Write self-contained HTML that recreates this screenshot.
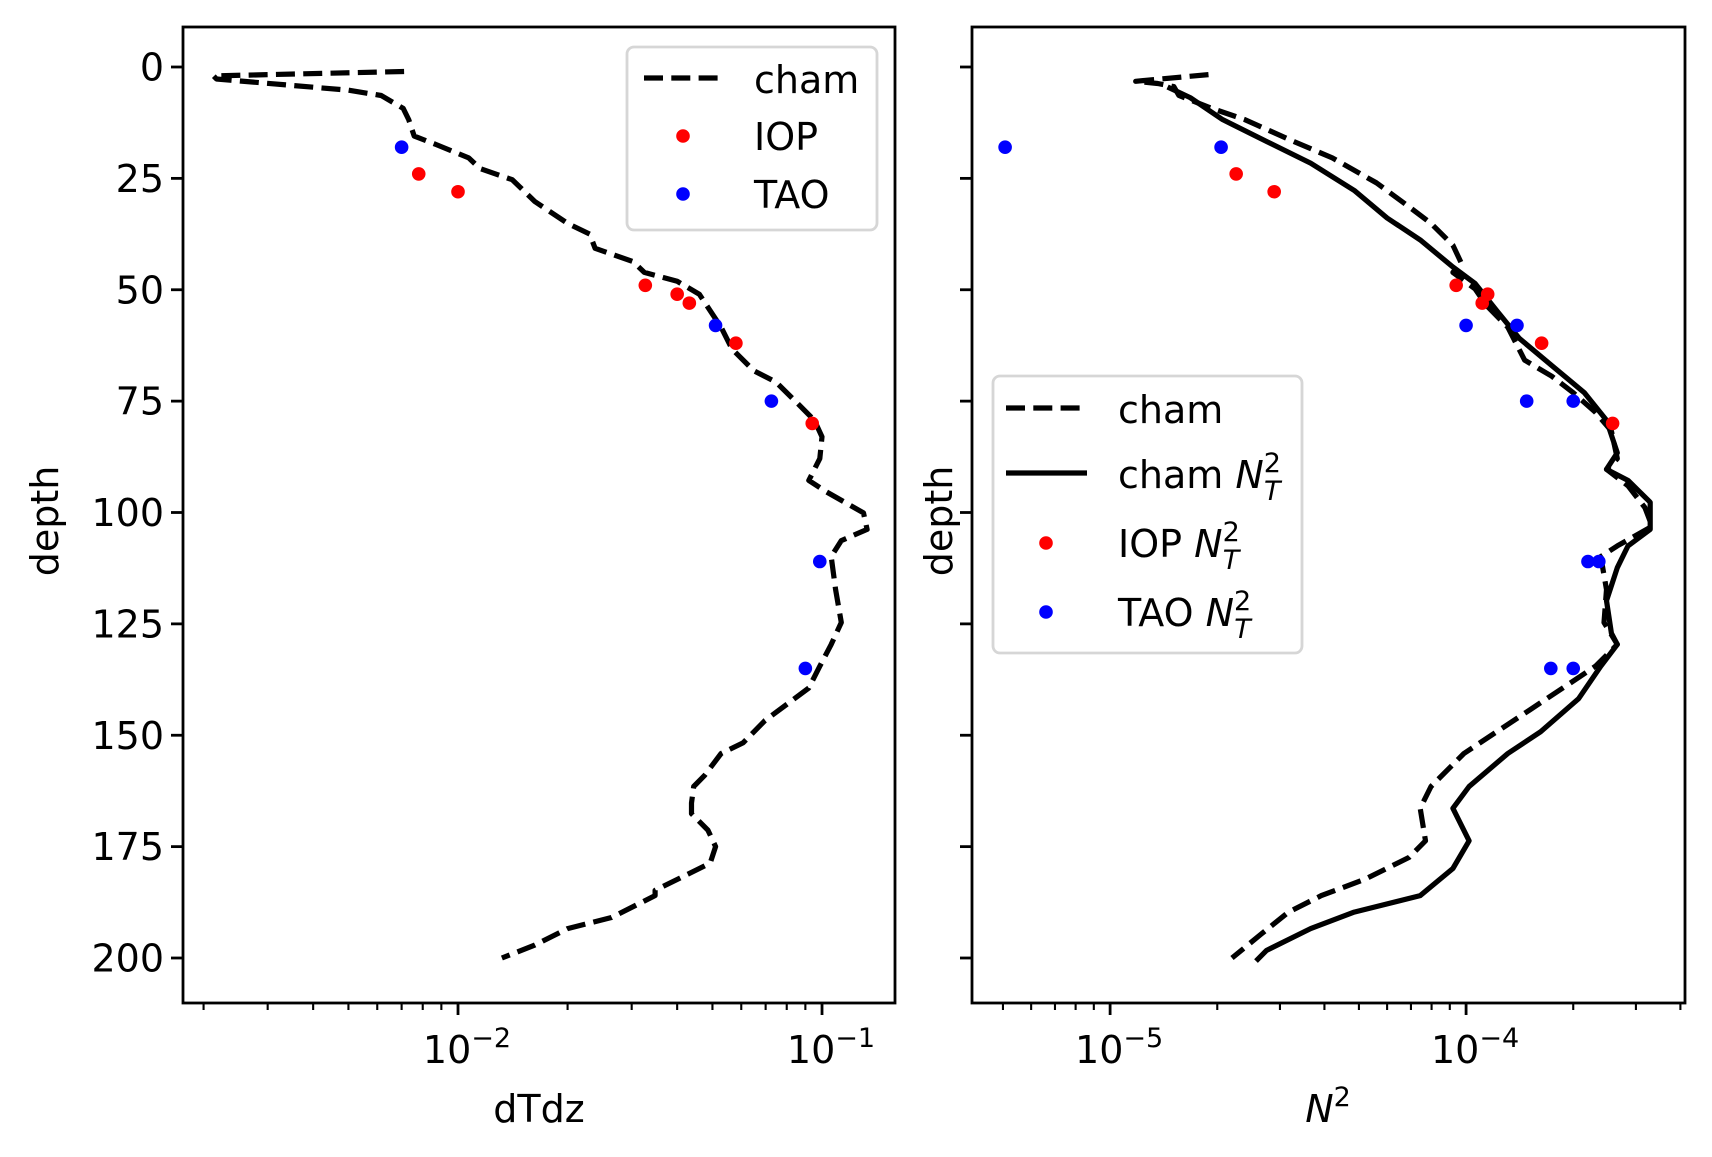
<!DOCTYPE html>
<html><head><meta charset="utf-8"><style>
body{margin:0;background:#fff}
svg text{font-family:"DejaVu Sans","Liberation Sans",sans-serif;fill:#000}
</style></head><body>
<svg id="fig" width="1712" height="1152" viewBox="0 0 1712 1152" xmlns="http://www.w3.org/2000/svg">
<rect width="1712" height="1152" fill="#fff"/>
<g id="plot"></g>
</svg>
<script>
// ---- data (left panel: dTdz) ----
const chamDepth = [1,2,2.7,5.2,6.4,9.3,11.8,15.5,17.4,20.4,22.8,25.3,30.2,35.1,37.5,40.7,43.7,46.1,48.1,51,58.4,63.3,68.2,70.7,75.6,79.3,83,87.9,92.8,95.2,100.1,103.8,106.3,109.9,117.3,124.7,129.6,134.5,139.4,146.7,151.7,154.1,159,161.5,165.2,167.6,171.3,175,178.7,181.1,184.8,186,190.9,193.4,197.1,200];
const chamDTdz = [0.00711,0.00213,0.00217,0.0050,0.00615,0.00707,0.00732,0.00758,0.0087,0.0107,0.0115,0.0141,0.01625,0.0200,0.0230,0.0238,0.0303,0.0325,0.0400,0.046,0.0528,0.0566,0.065,0.0747,0.0859,0.0953,0.100,0.0986,0.092,0.102,0.130,0.133,0.113,0.106,0.109,0.113,0.106,0.0986,0.092,0.0697,0.0607,0.0528,0.0476,0.0444,0.0438,0.0438,0.0486,0.051,0.0493,0.043,0.0348,0.0348,0.0264,0.0200,0.01625,0.0132];
const iopDepth = [24,28,49,51,53,62,80];
const iopDTdz = [0.0078,0.0100,0.0327,0.040,0.0432,0.058,0.094];
const taoDepth = [18,58,75,111,135];
const taoDTdz = [0.0070,0.051,0.0726,0.0986,0.090];
// ---- data (right panel: N^2) ----
const chamN2Depth = [1.7,3.2,3.7,4.4,6.4,9.3,11.8,16.2,20.4,26,31.4,35.1,40,44.2,46.1,49.8,53.5,58.4,65.8,69.4,73.1,77.5,81.7,87.9,90.3,94,98.9,103.1,107.5,109.9,117.3,124.7,129.6,134.5,139.4,144.3,149.2,154.1,161.5,166.4,173.7,177.4,182.3,186,189.7,194.6,200];
const chamN2 = [1.89e-5,1.18e-5,1.36e-5,1.51e-5,1.56e-5,1.93e-5,2.39e-5,3.17e-5,4.21e-5,5.60e-5,6.92e-5,7.97e-5,9.18e-5,9.72e-5,9.18e-5,10.6e-5,11.4e-5,13.1e-5,14.6e-5,17.4e-5,20.0e-5,23.1e-5,25.6e-5,26.6e-5,24.8e-5,28.5e-5,31.8e-5,33.3e-5,26.6e-5,23.9e-5,24.8e-5,24.4e-5,26.6e-5,23.1e-5,18.7e-5,15.1e-5,12.2e-5,9.86e-5,7.97e-5,7.43e-5,7.69e-5,6.92e-5,5.21e-5,3.92e-5,3.17e-5,2.66e-5,2.20e-5];
const nT2Depth = [4.5,6.9,11.8,16.7,21.6,27.7,33.9,38.8,44.9,48.6,54.7,60.9,67,73.1,79.3,86.6,90.3,92.8,97.7,103.8,107.5,112.4,119.8,127.1,129.6,134.5,141.8,149.2,154.1,161.5,166.4,173.7,179.9,186,189.7,193.4,198.3,200.7];
const nT2 = [1.45e-5,1.68e-5,2.07e-5,2.75e-5,3.66e-5,4.85e-5,6.00e-5,7.43e-5,9.18e-5,10.6e-5,12.2e-5,14.1e-5,17.4e-5,21.5e-5,24.8e-5,26.6e-5,24.8e-5,28.5e-5,32.9e-5,32.9e-5,28.5e-5,26.6e-5,24.8e-5,25.6e-5,26.6e-5,23.9e-5,20.7e-5,16.2e-5,13.1e-5,10.2e-5,9.18e-5,10.2e-5,9.18e-5,7.43e-5,4.85e-5,3.66e-5,2.75e-5,2.57e-5];
const iopN2Depth = [24,28,49,51,53,62,80];
const iopN2 = [2.26e-5,2.89e-5,9.38e-5,11.5e-5,11.1e-5,16.3e-5,25.8e-5];
const taoN2Depth = [18,18,58,58,75,75,111,111,135,135];
const taoN2 = [0.507e-5,2.05e-5,10.0e-5,13.9e-5,14.8e-5,20.0e-5,22.0e-5,23.6e-5,17.3e-5,20.0e-5];
const depthTicks = [0,25,50,75,100,125,150,175,200];

const NS='http://www.w3.org/2000/svg';
const root=document.getElementById('plot');
function mk(tag,attrs,parent){const e=document.createElementNS(NS,tag);for(const k in attrs)e.setAttribute(k,attrs[k]);(parent||root).appendChild(e);return e;}
const Y0=67, YS=4.455;
function yS(d){return Y0+d*YS;}
const TOP=27,BOT=1003;
function makeX(x0,x1,l0,l1){return v=>x0+(Math.log10(v)-l0)/(l1-l0)*(x1-x0);}
const xL=makeX(183,895,-2.7555,-0.7995);
const xR=makeX(972,1685,-5.388,-3.385);

function axes(name,x0,x1,xs,majors,minors,labels){
  const g=mk('g',{});
  
  
  for(const t of depthTicks){
    const tk=mk('line',{x1:x0-12,x2:x0,y1:yS(t),y2:yS(t),stroke:'#000','stroke-width':2.8},g);
    
    
    if(labels){
      const tl=mk('text',{x:x0-19,y:yS(t)+13.5,'text-anchor':'end','font-size':38},g);
      tl.textContent=String(t);
      
      
    }
  }
  for(const m of minors){
    const mt=mk('line',{x1:xs(m),x2:xs(m),y1:BOT,y2:BOT+7,stroke:'#000','stroke-width':2.1},g);
    
    
  }
  for(const p of majors){
    const X=xs(Math.pow(10,p));
    const mt=mk('line',{x1:X,x2:X,y1:BOT,y2:BOT+12,stroke:'#000','stroke-width':2.8},g);
    
    
    const tx=mk('text',{x:X+9,y:1063,'text-anchor':'middle','font-size':38},g);
    
    
    const a=mk('tspan',{},tx);a.textContent='10';
    const b=mk('tspan',{dy:-16,'font-size':27},tx);b.textContent='\u2212'+(-p);
  }
}
function line(name,xs,ds,vs,dash){
  const pts=vs.map((v,i)=>xs(v).toFixed(1)+','+yS(ds[i]).toFixed(1)).join(' ');
  const a={points:pts,fill:'none',stroke:'#000','stroke-width':5.2,'stroke-linejoin':'round'};
  if(dash)a['stroke-dasharray']='19 8.3';
  const p=mk('polyline',a);
  
  
}
function dots(name,xs,ds,vs,col){
  vs.forEach((v,i)=>{
    const c=mk('circle',{cx:xs(v),cy:yS(ds[i]),r:6.8,fill:col});
    
    
  });
}
// left
const minL=[];for(let k=2;k<10;k++){minL.push(k*1e-3);minL.push(k*1e-2);}
axes('left-axes',183,895,xL,[-2,-1],minL.filter(v=>v>=0.00176&&v<=0.159),true);
line('cham-dtdz-line',xL,chamDepth,chamDTdz,true);
dots('iop-point',xL,iopDepth,iopDTdz,'#ff0000');
dots('tao-point',xL,taoDepth,taoDTdz,'#0000ff');
// right
const minR=[];for(let k=2;k<10;k++){minR.push(k*1e-6);minR.push(k*1e-5);minR.push(k*1e-4);}
axes('right-axes',972,1685,xR,[-5,-4],minR.filter(v=>v>=4.1e-6&&v<=4.12e-4),false);
line('cham-n2-line',xR,chamN2Depth,chamN2,true);
line('cham-nt2-line',xR,nT2Depth,nT2,false);
dots('iop-nt2-point',xR,iopN2Depth,iopN2,'#ff0000');
dots('tao-nt2-point',xR,taoN2Depth,taoN2,'#0000ff');
</script>
<svg width="1712" height="1152" style="position:absolute;left:0;top:0" xmlns="http://www.w3.org/2000/svg">
<rect x="183" y="27" width="712" height="976" fill="none" stroke="#000" stroke-width="2.8"/>
<rect x="972" y="27" width="713" height="976" fill="none" stroke="#000" stroke-width="2.8"/>
<text transform="translate(58,521) rotate(-90)" text-anchor="middle" font-size="38">depth</text>
<text transform="translate(952,521) rotate(-90)" text-anchor="middle" font-size="38">depth</text>
<text x="539" y="1122" text-anchor="middle" font-size="38">dTdz</text>
<text x="1328" y="1122" text-anchor="middle" font-size="38"><tspan font-style="italic">N</tspan><tspan dy="-16" font-size="27">2</tspan></text>
<g>
<rect x="627" y="47" width="250" height="183" rx="7" fill="#fff" fill-opacity="0.8" stroke="#d6d6d6" stroke-width="2.8"/>
<line x1="644" x2="721" y1="78" y2="78" stroke="#000" stroke-width="5.2" stroke-dasharray="19 8.3"/>
<text x="754" y="93" font-size="38">cham</text>
<circle cx="683" cy="136" r="6.8" fill="#ff0000"/>
<text x="754" y="150" font-size="38">IOP</text>
<circle cx="683" cy="194" r="6.8" fill="#0000ff"/>
<text x="754" y="208" font-size="38">TAO</text>
</g>
<g>
<rect x="993" y="376" width="309" height="277" rx="7" fill="#fff" fill-opacity="0.8" stroke="#d6d6d6" stroke-width="2.8"/>
<line x1="1006" x2="1087" y1="408" y2="408" stroke="#000" stroke-width="5.2" stroke-dasharray="19 8.3"/>
<text x="1118" y="423" font-size="38">cham</text>
<line x1="1006" x2="1087" y1="473" y2="473" stroke="#000" stroke-width="5.2"/>
<text x="1118" y="488" font-size="38">cham <tspan font-style="italic">N</tspan><tspan dy="-16" font-size="27">2</tspan><tspan dx="-17" dy="28" font-size="27" font-style="italic">T</tspan></text>
<circle cx="1046" cy="543" r="6.8" fill="#ff0000"/>
<text x="1118" y="557" font-size="38">IOP <tspan font-style="italic">N</tspan><tspan dy="-16" font-size="27">2</tspan><tspan dx="-17" dy="28" font-size="27" font-style="italic">T</tspan></text>
<circle cx="1046" cy="612" r="6.8" fill="#0000ff"/>
<text x="1118" y="626" font-size="38">TAO <tspan font-style="italic">N</tspan><tspan dy="-16" font-size="27">2</tspan><tspan dx="-17" dy="28" font-size="27" font-style="italic">T</tspan></text>
</g>
</svg>
</body></html>
